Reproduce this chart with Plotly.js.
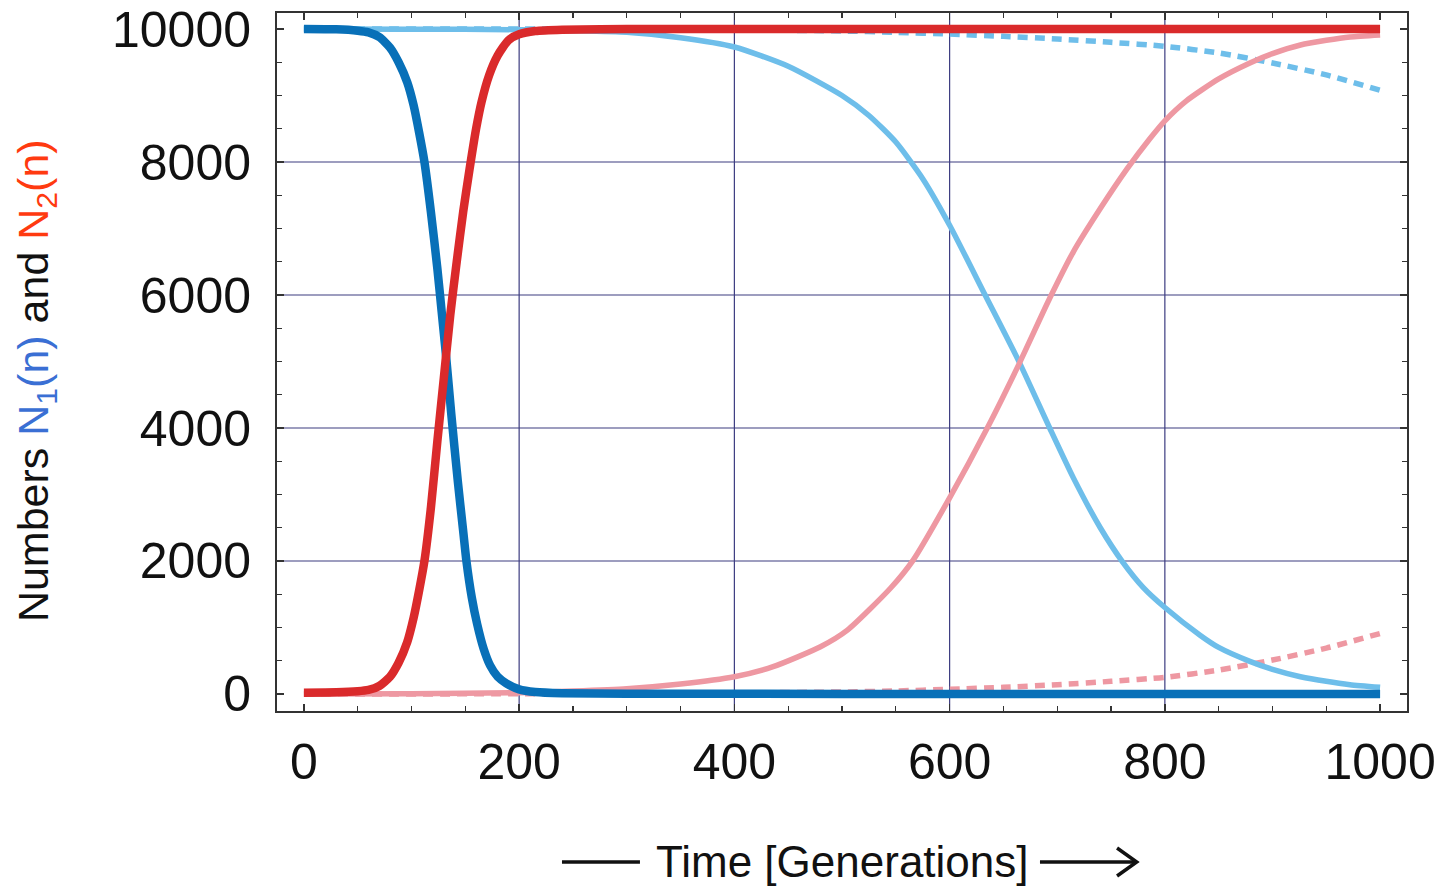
<!DOCTYPE html>
<html>
<head>
<meta charset="utf-8">
<script src="https://cdn.plot.ly/plotly-3.0.1.min.js"></script>
<style>html,body{margin:0;padding:0;background:#fff;}#chart{width:1451px;height:889px;}</style>
</head>
<body>
<div id="chart"></div>
<script>
// ---- data ----
const xTicks = [0, 200, 400, 600, 800, 1000];
const yTicks = [0, 2000, 4000, 6000, 8000, 10000];
const gridX = [200, 400, 600, 800];
const gridY = [2000, 4000, 6000, 8000];

// fast replacement (thick dark lines)
const tFast  = [0, 30, 50, 60, 70, 80, 88, 96, 102, 107, 112, 118, 124, 128, 132, 137, 143, 148, 151, 156, 161, 167, 173, 180, 188, 200, 215, 240, 300, 400, 600, 800, 1000];
const n1Fast = [10000, 9995, 9975, 9950, 9880, 9720, 9500, 9200, 8850, 8450, 8000, 7250, 6400, 5750, 5100, 4200, 3200, 2450, 2000, 1450, 1050, 680, 430, 260, 160, 70, 30, 12, 5, 2, 0, 0, 0];
const tFast2 = [0, 30, 50, 60, 70, 80, 88, 96, 102, 107, 112, 118, 124, 130, 136, 142, 148, 154, 160, 165, 172, 180, 190, 200, 215, 240, 300, 1000];
const n2Fast = [20, 25, 40, 60, 120, 260, 470, 780, 1150, 1550, 2000, 2800, 3800, 4750, 5700, 6500, 7250, 7900, 8500, 8900, 9300, 9600, 9830, 9920, 9970, 9990, 10000, 10000];

// slow replacement (light solid lines)
const tSlow1 = [0, 100, 200, 250, 300, 350, 400, 450, 500, 525, 550, 575, 600, 633, 665, 693, 715, 740, 761, 780, 800, 833, 850, 879, 900, 926, 950, 972, 1000];
const n1Slow = [10000, 9998, 9990, 9975, 9950, 9870, 9730, 9440, 9000, 8700, 8300, 7750, 7050, 6000, 4980, 4000, 3250, 2500, 1980, 1600, 1300, 880, 700, 490, 370, 260, 190, 140, 100];
const tSlow2 = [0, 100, 200, 250, 300, 350, 400, 436, 480, 505, 545, 566, 600, 635, 665, 693, 715, 740, 765, 786, 800, 820, 850, 879, 900, 926, 950, 972, 1000];
const n2Slow = [0, 5, 20, 45, 80, 150, 260, 410, 710, 960, 1590, 2010, 2950, 4000, 4980, 5950, 6650, 7300, 7900, 8350, 8620, 8920, 9250, 9490, 9630, 9760, 9830, 9880, 9910];

// very slow replacement (dashed light lines)
const tDash  = [0, 300, 400, 500, 550, 600, 650, 700, 750, 800, 850, 900, 950, 1000];
const n1Dash = [10000, 9998, 9990, 9970, 9950, 9925, 9890, 9850, 9800, 9740, 9640, 9490, 9310, 9080];
const n2Dash = [0, 5, 15, 30, 45, 70, 100, 140, 190, 250, 360, 510, 690, 910];

// ---- styling ----
const cDarkBlue = '#0870b8';
const cRed = '#da2a2b';
const cLightBlue = '#6ebeea';
const cPink = '#ee98a2';
const gridColor = '#3c3c80';
const FONT = 'Liberation Sans, Arial, Helvetica, sans-serif';

const traces = [
  {x: tDash, y: n1Dash, mode: 'lines', line: {color: cLightBlue, width: 5.5, dash: '10px,7px', shape: 'spline', smoothing: 0.6}},
  {x: tDash, y: n2Dash, mode: 'lines', line: {color: cPink, width: 5.5, dash: '10px,7px', shape: 'spline', smoothing: 0.6}},
  {x: tSlow1, y: n1Slow, mode: 'lines', line: {color: cLightBlue, width: 5.5, shape: 'spline', smoothing: 0.6}},
  {x: tSlow2, y: n2Slow, mode: 'lines', line: {color: cPink, width: 5.5, shape: 'spline', smoothing: 0.6}},
  {x: tFast, y: n1Fast, mode: 'lines', line: {color: cDarkBlue, width: 8.5, shape: 'spline', smoothing: 0.6}},
  {x: tFast2, y: n2Fast, mode: 'lines', line: {color: cRed, width: 8.5, shape: 'spline', smoothing: 0.6}}
];

const shapes = [];
gridX.forEach(v => shapes.push({type: 'line', xref: 'x', yref: 'paper', x0: v, x1: v, y0: 0, y1: 1, layer: 'below', line: {color: gridColor, width: 1.2}}));
gridY.forEach(v => shapes.push({type: 'line', xref: 'paper', yref: 'y', x0: 0, x1: 1, y0: v, y1: v, layer: 'below', line: {color: gridColor, width: 1.2}}));
// arrow decoration around the x title
shapes.push({type: 'line', xref: 'paper', yref: 'paper', x0: 0.2522, x1: 0.3212, y0: -0.2163, y1: -0.2163, line: {color: '#111', width: 3.5}});
shapes.push({type: 'line', xref: 'paper', yref: 'paper', x0: 0.6752, x1: 0.7584, y0: -0.2163, y1: -0.2163, line: {color: '#111', width: 3.5}});
shapes.push({type: 'path', xref: 'paper', yref: 'paper', path: 'M 0.7434,-0.1963 L 0.7608,-0.2163 L 0.7434,-0.2364', line: {color: '#111', width: 3.5}});

const axisCommon = {
  showgrid: false, zeroline: false,
  showline: true, linecolor: '#333', linewidth: 2, mirror: 'allticks',
  ticks: 'inside', ticklen: 7, tickwidth: 1.5, tickcolor: '#333',
  tickfont: {family: FONT, size: 50, color: '#111'}
};

const layout = {
  width: 1451, height: 889,
  margin: {l: 277, r: 44, t: 13, b: 178},
  paper_bgcolor: '#fff', plot_bgcolor: '#fff',
  showlegend: false,
  xaxis: Object.assign({}, axisCommon, {
    range: [-25, 1025], tickvals: xTicks, ticktext: xTicks.map(String),
    ticklabelstandoff: 6,
    minor: {dtick: 50, ticks: 'inside', ticklen: 5, tickwidth: 1.2, tickcolor: '#333', showgrid: false}
  }),
  yaxis: Object.assign({}, axisCommon, {
    range: [-256, 10241], tickvals: yTicks, ticktext: yTicks.map(String),
    ticklabelstandoff: 14,
    minor: {dtick: 500, ticks: 'inside', ticklen: 5, tickwidth: 1.2, tickcolor: '#333', showgrid: false}
  }),
  shapes: shapes,
  annotations: [
    {xref: 'paper', yref: 'paper', x: 0.5, y: -0.2163, xanchor: 'center', yanchor: 'middle', showarrow: false,
     text: 'Time [Generations]', font: {family: FONT, size: 44, color: '#111'}},
    {xref: 'paper', yref: 'paper', x: -0.2133, y: 0.474, xanchor: 'center', yanchor: 'middle', showarrow: false, textangle: -90,
     text: 'Numbers <span style="color:#3a6fd4">N<sub>1</sub>(n)</span> and <span style="color:#ff3a10">N<sub>2</sub>(n)</span>',
     font: {family: FONT, size: 43, color: '#111'}}
  ]
};

Plotly.newPlot('chart', traces, layout, {displayModeBar: false, staticPlot: true});
</script>
</body>
</html>
